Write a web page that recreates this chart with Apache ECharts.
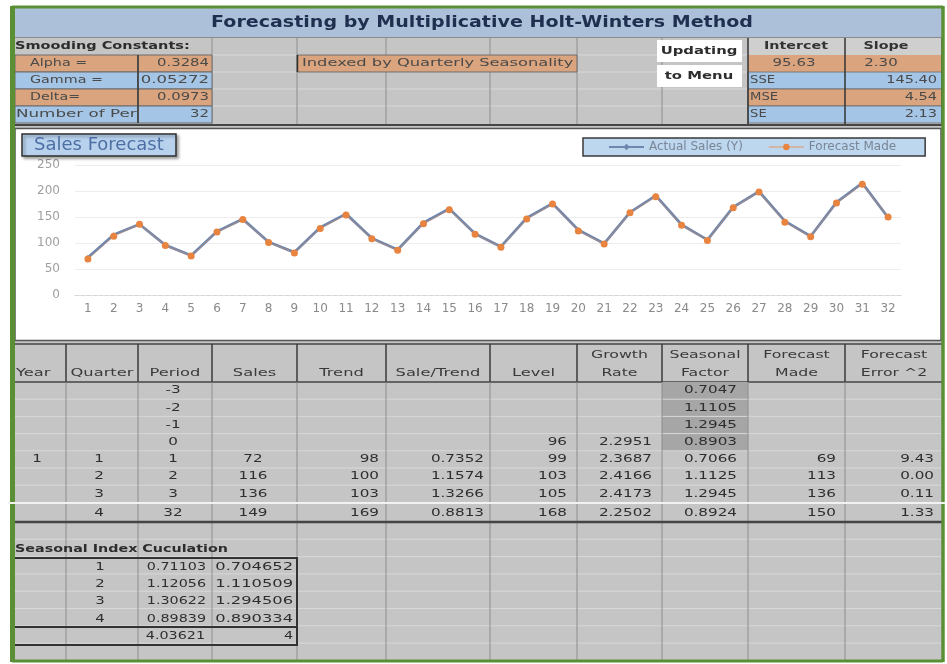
<!DOCTYPE html>
<html>
<head>
<meta charset="utf-8">
<script src="https://cdn.jsdelivr.net/npm/echarts@6/dist/echarts.min.js"></script>
<style>html,body{margin:0;padding:0;background:#fff;}#c{width:947px;height:664px;}</style>
</head>
<body>
<div id="c"></div>
<script>
// ---------- data ----------
const periods = ['1','2','3','4','5','6','7','8','9','10','11','12','13','14','15','16','17','18','19','20','21','22','23','24','25','26','27','28','29','30','31','32'];
const actualSales = [72,116,136,96,76,122,146,102,82,130,156,109,87,139,166,118,93,148,176,125,99,159,191,135,106,169,199,142,113,178,215,149];
const forecastMade = [69,113,136,95,75,121,145,101,81,128,154,108,86,137,164,117,92,146,175,123,98,158,189,134,105,168,198,140,112,177,213,150];
const yTicks = [0,50,100,150,200,250];

const titleText = 'Forecasting by Multiplicative Holt-Winters Method';
const constantLabels = ['Alpha =','Gamma =','Delta=','Number of Per'];
const constantValues = ['0.3284','0.05272','0.0973','32'];
const statHeaders = ['Intercet','Slope'];
const statTopValues = ['95.63','2.30'];
const statLabels = ['SSE','MSE','SE'];
const statValues = ['145.40','4.54','2.13'];

const tableHeaders = [['Year'],['Quarter'],['Period'],['Sales'],['Trend'],['Sale/Trend'],['Level'],['Growth','Rate'],['Seasonal','Factor'],['Forecast','Made'],['Forecast','Error ^2']];
const tableRows = [
  ['','','-3','','','','','','0.7047','',''],
  ['','','-2','','','','','','1.1105','',''],
  ['','','-1','','','','','','1.2945','',''],
  ['','','0','','','','96','2.2951','0.8903','',''],
  ['1','1','1','72','98','0.7352','99','2.3687','0.7066','69','9.43'],
  ['','2','2','116','100','1.1574','103','2.4166','1.1125','113','0.00'],
  ['','3','3','136','103','1.3266','105','2.4173','1.2945','136','0.11']
];
const lastRow = ['','4','32','149','169','0.8813','168','2.2502','0.8924','150','1.33'];

const seasonQuarters = ['1','2','3','4'];
const seasonRaw = ['0.71103','1.12056','1.30622','0.89839'];
const seasonNorm = ['0.704652','1.110509','1.294506','0.890334'];
const seasonTotals = ['4.03621','4'];

// ---------- layout helpers ----------
const cols = [15,66,138,212,297,386,490,577,662,748,845,943];
const colAnchor = [[37,'center'],[99,'center'],[173,'center'],[253,'center'],[379,'right'],[484,'right'],[567,'right'],[652,'right'],[737,'right'],[836,'right'],[934,'right']];
const GRAY='#c5c5c5', LIGHT='#d9d9d9', COLLINE='#8e8e8e', DARK='#454545';
const ORANGE='#d9a47e', BLUE='#a4c5e5', TITLEBLUE='#adc0d9', GREEN='#5b8f35';
const FONT='"DejaVu Sans"';
const G=[];
function rect(x,y,w,h,fill,stroke,lw){G.push({type:'rect',silent:true,shape:{x:x,y:y,width:w,height:h},style:{fill:fill||'none',stroke:stroke||null,lineWidth:lw||1}});}
function line(x1,y1,x2,y2,stroke,lw){G.push({type:'line',silent:true,shape:{x1:x1,y1:y1,x2:x2,y2:y2},style:{stroke:stroke,lineWidth:lw||1}});}
function txt(x,y,t,align,o){o=o||{};G.push({type:'text',silent:true,x:x,y:y,scaleX:o.sx||1.38,z:5,
  style:{text:t,textAlign:align||'left',textVerticalAlign:'middle',align:align||'left',verticalAlign:'middle',
  fill:o.color||'#333',font:(o.weight||'normal')+' '+(o.size||11)+'px '+FONT}});}

// background + frame
rect(12,7,931,654,GRAY);
// title row
rect(14,8,928,29,TITLEBLUE);
line(14,37.5,942,37.5,'#8a8a8a',1);
txt(482,23,titleText,'center',{weight:'bold',size:15,sx:1.27,color:'#1f2f4f'});

// top section light rows & col lines
[55,72,89,106].forEach(function(y){line(212,y,748,y,LIGHT,1);});
[212,297,386,490,577,662].forEach(function(x){line(x,38,x,124,COLLINE,1);});
txt(15,46.5,'Smooding Constants:','left',{weight:'bold',sx:1.32,color:'#2d2d2d'});
constantLabels.forEach(function(l,i){
  const y=55+i*17, f=(i%2===0)?ORANGE:BLUE;
  rect(15,y,123,17,f,'#6a6a6a',1);
  rect(138,y,74,17,f,'#6a6a6a',1);
  txt(i===3?16:30,y+8.5,l,'left',{color:'#4a4a4a',sx:i===3?1.52:1.3});
  txt(209,y+8.5,constantValues[i],'right',{color:'#4a4a4a',sx:i===1?1.5:1.35});
});
line(138,55,138,123,'#3a3a3a',1.5);
// indexed label
rect(297,55,280,17,ORANGE,'#6a6a6a',1);
line(297.5,55,297.5,72,'#333',1.5);
txt(302,63.5,'Indexed by Quarterly Seasonality','left',{color:'#4a4a4a',sx:1.48});
// buttons
rect(657,40,85,22,'#ffffff');
rect(657,65,85,22,'#ffffff');
txt(699,51,'Updating','center',{weight:'bold',sx:1.35,color:'#2d2d2d'});
txt(699,76,'to Menu','center',{weight:'bold',sx:1.35,color:'#2d2d2d'});
// stats block
rect(748,38,97,17,'#cfcfcf');
rect(845,38,97,17,'#cfcfcf');
txt(796,46.5,statHeaders[0],'center',{weight:'bold',sx:1.3,color:'#333'});
txt(886,46.5,statHeaders[1],'center',{weight:'bold',sx:1.3,color:'#333'});
rect(748,55,194,17,ORANGE);
txt(794,63.5,statTopValues[0],'center',{color:'#4a4a4a',sx:1.36});
txt(881,63.5,statTopValues[1],'center',{color:'#4a4a4a',sx:1.36});
statLabels.forEach(function(l,i){
  const y=72+i*17, f=(i%2===0)?BLUE:ORANGE;
  rect(748,y,194,17,f,'#6a6a6a',0.8);
  txt(750,y+8.5,l,'left',{color:'#4a4a4a',sx:1.2});
  txt(937,y+8.5,statValues[i],'right',{color:'#4a4a4a',sx:1.32});
});
[748,845,942].forEach(function(x){line(x,38,x,124,'#333',1.5);});
line(14,125,942,125,DARK,2);

// chart area
rect(15,128.5,926,212,'#ffffff','#555',1.5);

// table header
line(14,344,942,344,DARK,1.5);
line(14,382,942,382,DARK,1.5);
cols.forEach(function(x,i){ if(i>0&&i<cols.length-1) line(x,344,x,382,'#3a3a3a',1.5); });
tableHeaders.forEach(function(h,i){
  const cx=(cols[i]+cols[i+1])/2;
  if(h.length===1){ txt(i===0?16:cx,373,h[0],i===0?'left':'center',{color:'#3a3a3a',sx:1.48}); }
  else { txt(cx,355.5,h[0],'center',{color:'#3a3a3a',sx:1.43}); txt(cx,373,h[1],'center',{color:'#3a3a3a',sx:1.43}); }
});
// seasonal dark cells
rect(662,382,86,69,'#a6a6a6');
// data rows
const rowH=17.2;
for(let r=1;r<8;r++){ line(14,382+r*rowH,942,382+r*rowH,LIGHT,1); }
for(let r=1;r<9;r++){ line(14,522+r*17.3,942,522+r*17.3,LIGHT,1); }
cols.forEach(function(x,i){ if(i>0&&i<cols.length-1) line(x,382,x,662,COLLINE,1); });
tableRows.forEach(function(row,r){
  const y=382+rowH*r+rowH/2;
  row.forEach(function(v,c){ if(v!=='') txt(colAnchor[c][0],y,v,colAnchor[c][1],{color:'#2e2e2e',sx:1.38}); });
});
line(8,503,945,503,'#f2f2f2',2.2);
lastRow.forEach(function(v,c){ if(v!=='') txt(colAnchor[c][0],513,v,colAnchor[c][1],{color:'#2e2e2e',sx:1.38}); });
line(14,522,942,522,DARK,2.5);

// seasonal index block
txt(15,549,'Seasonal Index Cuculation','left',{weight:'bold',sx:1.3,color:'#2d2d2d'});
rect(11,558,286,87,'rgba(0,0,0,0)','#333',2);
line(11,627,297,627,'#333',2);
seasonQuarters.forEach(function(q,i){
  const y=567+i*17.3;
  txt(100,y,q,'center',{color:'#2e2e2e',sx:1.35});
  txt(206,y,seasonRaw[i],'right',{color:'#2e2e2e',sx:1.3});
  txt(293,y,seasonNorm[i],'right',{color:'#2e2e2e',sx:1.48});
});
txt(205,636,seasonTotals[0],'right',{color:'#2e2e2e',sx:1.3});
txt(293,636,seasonTotals[1],'right',{color:'#2e2e2e',sx:1.3});

// green frame
line(12,7,943,7,GREEN,3);
line(12,661,943,661,GREEN,3);
line(12.5,6,12.5,502,GREEN,5);
line(12.5,504,12.5,662,GREEN,5);
line(943,6,943,502,GREEN,3.5);
line(943,504,943,662,GREEN,3.5);

// ---------- chart ----------
const chart = echarts.init(document.getElementById('c'), null, {renderer:'canvas'});
chart.setOption({
  animation:false,
  graphic:{elements:G},
  title:{text:'Sales Forecast',left:22,top:134,z:10,padding:[2,12,2,12],
    backgroundColor:'#b8d2ee',borderColor:'#2f2f2f',borderWidth:1.5,
    shadowColor:'rgba(0,0,0,0.35)',shadowBlur:3,shadowOffsetX:2,shadowOffsetY:2,
    textStyle:{fontFamily:FONT,fontSize:18,fontWeight:'normal',color:'#4d6fa3'}},
  legend:{left:583,top:138,z:10,padding:[3,29,3,25],itemGap:25,itemWidth:35,itemHeight:8,
    backgroundColor:'#bdd7ee',borderColor:'#3a3a3a',borderWidth:1.5,
    textStyle:{fontFamily:FONT,fontSize:12,color:'#7a8596'},
    data:['Actual Sales (Y)','Forecast Made']},
  grid:{left:75,right:46,top:165,bottom:369,containLabel:false},
  xAxis:{type:'category',data:periods,boundaryGap:true,
    axisLine:{lineStyle:{color:'#d6d6d6',type:'dashed'}},axisTick:{show:false},
    axisLabel:{fontFamily:FONT,fontSize:12,color:'#8a8a8a',margin:8,interval:0}},
  yAxis:{type:'value',min:yTicks[0],max:yTicks[yTicks.length-1],interval:yTicks[1]-yTicks[0],
    axisLine:{show:false},axisTick:{show:false},
    splitLine:{lineStyle:{color:'#ededed'}},
    axisLabel:{fontFamily:FONT,fontSize:12,color:'#a0a0a0',margin:15}},
  series:[
    {name:'Actual Sales (Y)',type:'line',data:actualSales,z:3,
      lineStyle:{color:'#6f87ae',width:2.8},itemStyle:{color:'#6f87ae'},
      symbol:'diamond',symbolSize:5},
    {name:'Forecast Made',type:'line',data:forecastMade,z:4,
      lineStyle:{color:'#ed8c4c',width:1,opacity:0.45},itemStyle:{color:'#e8843f'},
      symbol:'circle',symbolSize:7}
  ]
});
</script>
</body>
</html>
